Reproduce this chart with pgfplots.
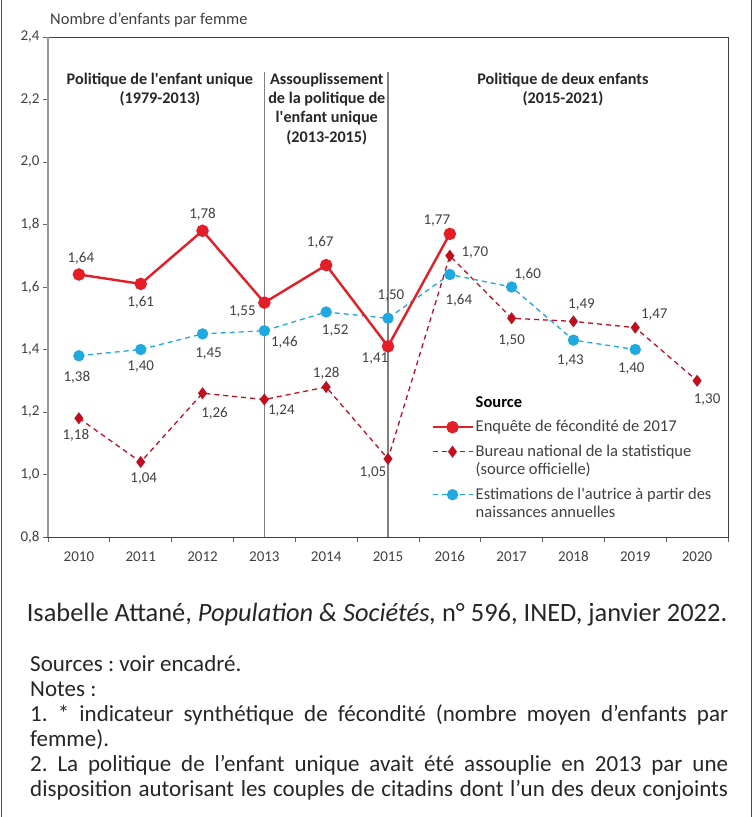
\documentclass[border=0pt]{standalone}
\usepackage{pgfplots}
\pgfplotsset{compat=1.18}
\usepackage{pgfplotstable}
\usepackage{fontspec}
\setmainfont{Carlito}
\frenchspacing

\definecolor{cred}{RGB}{228,30,38}
\definecolor{cdred}{RGB}{192,16,32}
\definecolor{cblue}{RGB}{32,168,224}
\definecolor{ctext}{RGB}{64,64,64}

% x = 0 for 2010 ... 10 for 2020; dx, dy = label offset (pt)
\pgfplotstableread{
x y dx dy
0 1.64 2 16
1 1.61 0 -19
2 1.78 0 16
3 1.55 -22 -9
4 1.67 -6 23
5 1.41 -13 -12
6 1.77 -13 13
}\enquete

\pgfplotstableread{
x y dx dy
0 1.18 -3 -17
1 1.04 3 -17
2 1.26 12 -20
3 1.24 17 -11
4 1.28 0 14
5 1.05 -15 -14
6 1.70 25 3
7 1.50 0 -22
8 1.49 8 17
9 1.47 19 13
10 1.30 10 -19
}\bureau

\pgfplotstableread{
x y dx dy
0 1.38 -2 -22
1 1.40 0 -17
2 1.45 6 -20
3 1.46 20 -12
4 1.52 9 -19
5 1.50 3 23
6 1.64 9 -26
7 1.60 16 13
8 1.43 -3 -20
9 1.40 -4 -19
}\estim

\pgfplotsset{
  enqstyle/.style={cred, line width=2.4pt, mark=*, mark size=5pt, mark options={solid, fill=cred, draw=cred}},
  burstyle/.style={cdred, line width=1.3pt, dash pattern=on 5pt off 4pt, mark=diamond*, mark size=5pt, mark options={solid, fill=cdred, draw=cdred}},
  eststyle/.style={cblue, line width=1.3pt, dash pattern=on 5pt off 4pt, mark=*, mark size=5pt, mark options={solid, fill=cblue, draw=cblue}},
  labels/.style={
    nodes near coords={\pgfmathprintnumber[use comma,fixed,fixed zerofill,precision=2]{\pgfplotspointmeta}},
    visualization depends on={\thisrow{dx} \as \labdx},
    visualization depends on={\thisrow{dy} \as \labdy},
    every node near coord/.append style={anchor=center, xshift=\labdx pt, yshift=\labdy pt,
      font=\fontsize{15}{17}\selectfont, text=ctext},
  },
}
% struts: first line of an entry / following line
\newcommand{\sfirst}{\rule[-5pt]{0pt}{28pt}}
\newcommand{\snext}{\rule[-5pt]{0pt}{22pt}}

\begin{document}
\begin{tikzpicture}
\path[use as bounding box] (0,0) rectangle (754pt,-817pt);
\clip (0,0) rectangle (754pt,-817pt);
\draw[black!70, line width=1pt] (1pt,0) -- (1pt,-817pt) (751pt,0) -- (751pt,-817pt);

\begin{axis}[
  at={(48pt,-537pt)}, anchor=south west,
  scale only axis, width=680pt, height=500pt,
  xmin=-0.5, xmax=10.5, ymin=0.8, ymax=2.4,
  xtick={-0.5,0.5,1.5,2.5,3.5,4.5,5.5,6.5,7.5,8.5,9.5,10.5},
  xticklabels={2010,2011,2012,2013,2014,2015,2016,2017,2018,2019,2020,{}},
  x tick label style={xshift=30.9pt, yshift=-6pt},
  ytick={0.8,1.0,1.2,1.4,1.6,1.8,2.0,2.2,2.4},
  yticklabel style={/pgf/number format/.cd, use comma, fixed, fixed zerofill, precision=1},
  /pgf/number format/assume math mode=true,
  tick align=outside, xtick pos=bottom, ytick pos=left,
  major tick length=5pt,
  tick style={black!60, line width=0.8pt},
  axis line style={black!75, line width=1pt},
  tick label style={font=\fontsize{15}{17}\selectfont, text=ctext},
  legend cell align=left,
  legend style={at={(rel axis cs:0.559,0.298)}, anchor=north west, draw=none, fill=none,
    font=\fontsize{16.5}{19}\selectfont, text=ctext, cells={anchor=base west}, row sep=0pt,
    nodes={inner ysep=0pt}},
  legend image code/.code={\draw[yshift=4.5pt,mark repeat=2,mark phase=2,#1] plot coordinates {(0pt,0pt) (20pt,0pt) (40pt,0pt)};},
  clip=false,
]
\draw[gray, line width=1.2pt] (axis cs:3,0.8) -- (axis cs:3,2.288);
\draw[gray, line width=1.2pt] (axis cs:5,0.8) -- (axis cs:5,2.288);
\draw[gray!80, line width=1.2pt] (rel axis cs:0,0) -- (rel axis cs:0,1);

\node[font=\bfseries\fontsize{16.2}{19.3}\selectfont, align=center, text=black!85] at (axis cs:1.31,2.232)
  {Politique de l\textquotesingle enfant unique\\(1979-2013)};
\node[font=\bfseries\fontsize{16.2}{19.3}\selectfont, align=center, text=black!85] at (axis cs:4.01,2.170)
  {Assouplissement\\de la politique de\\l\textquotesingle enfant unique\\(2013-2015)};
\node[font=\bfseries\fontsize{16.2}{19.3}\selectfont, align=center, text=black!85] at (axis cs:7.83,2.232)
  {Politique de deux enfants\\(2015-2021)};

\addplot[burstyle, labels, forget plot] table[x=x, y=y] {\bureau};
\addplot[eststyle, labels, forget plot] table[x=x, y=y] {\estim};
\addplot[enqstyle, labels, forget plot] table[x=x, y=y] {\enquete};

\addlegendimage{empty legend}
\addlegendentry{\snext\textbf{\textcolor{black}{Source}}}
\addlegendimage{enqstyle}
\addlegendentry{\sfirst Enquête de fécondité de 2017}
\addlegendimage{burstyle}
\addlegendentry{\sfirst Bureau national de la statistique}
\addlegendimage{empty legend}
\addlegendentry{\snext(source officielle)}
\addlegendimage{eststyle}
\addlegendentry{\sfirst Estimations de l\textquotesingle autrice à partir des}
\addlegendimage{empty legend}
\addlegendentry{\snext naissances annuelles}
\end{axis}

\node[anchor=west, inner sep=0pt, font=\fontsize{16.5}{18}\selectfont, text=ctext] at (50pt,-20pt) {Nombre d’enfants par femme};

\node[font=\fontsize{26.4}{30}\selectfont, text=black!85] at (377pt,-615pt)
  {Isabelle Attané, \textit{Population \& Sociétés,} n° 596, INED, janvier 2022.};

\node[anchor=north west, inner sep=0pt, text width=698pt, align=justify, text=black!85,
  font=\fontsize{23}{25}\selectfont] at (30pt,-655pt) {%
Sources : voir encadré.\\
Notes :\\
1. * indicateur synthétique de fécondité (nombre moyen d’enfants par\linebreak femme).\\
{\parfillskip=0pt 2. La politique de l’enfant unique avait été assouplie en 2013 par une\linebreak disposition autorisant les couples de citadins dont l’un des deux conjoints\par}};
\end{tikzpicture}
\end{document}
